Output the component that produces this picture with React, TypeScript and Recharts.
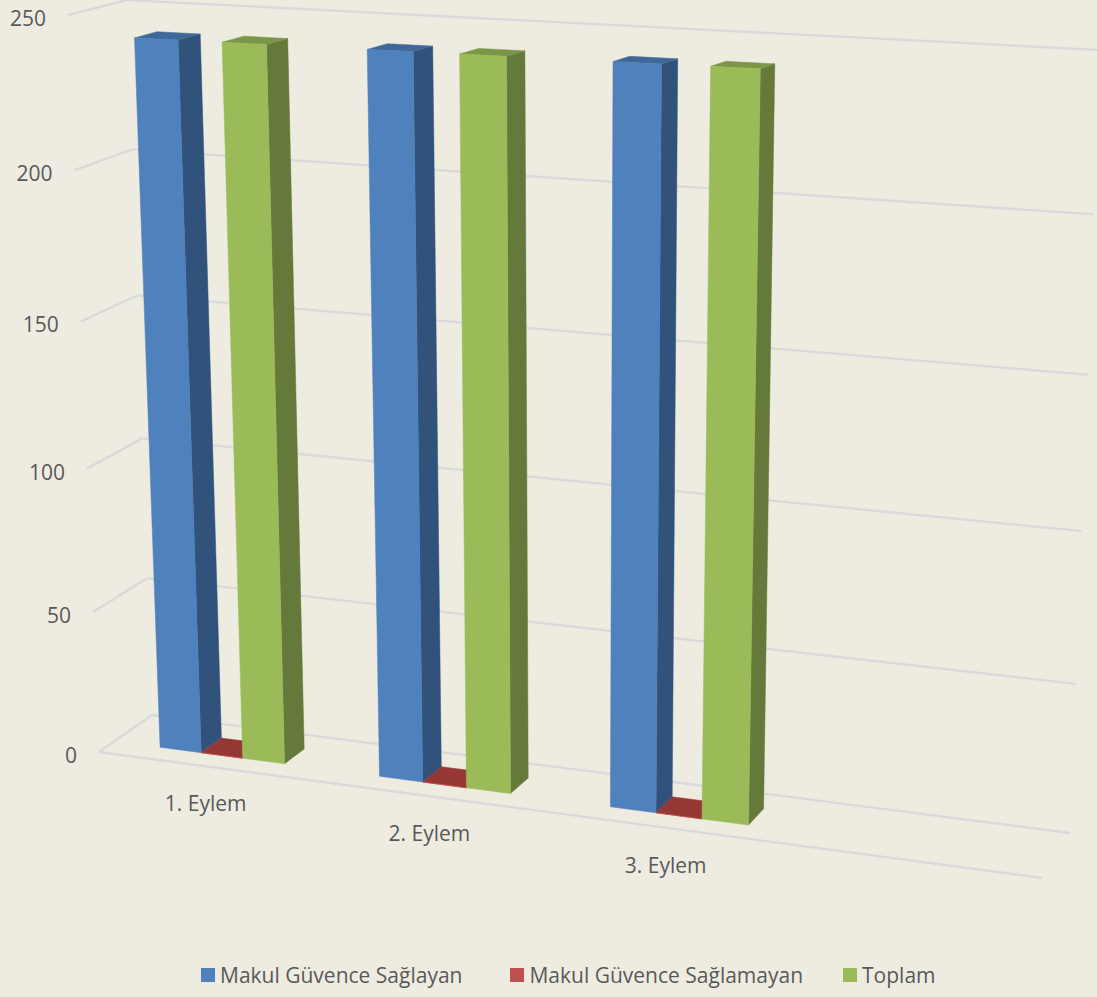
import React from "react";
import { Bar, BarChart, CartesianGrid, Legend, XAxis, YAxis } from "recharts";

const categories = ["1. Eylem", "2. Eylem", "3. Eylem", ""];
const saglayan = [242, 242, 242, null];
const saglamayan = [0, 0, 0, null];
const toplam = [242, 242, 242, null];
const valueTicks = [0, 50, 100, 150, 200, 250];

const data = categories.map((name, i) => ({
  name,
  saglayan: saglayan[i],
  saglamayan: saglamayan[i],
  toplam: toplam[i],
}));

const W = 1097;
const H = 997;
const plot = { left: 60, top: 10, width: 1000, height: 800 };
const MAX = 250;
const DEPTH_FRONT = 0.29;
const DEPTH_BACK = 0.68;
const legendGaps = [48, 40, 0];

type Pt = [number, number];

// unit square -> quad, corners: (0,0) (1,0) (1,1) (0,1)
const homography = (q: Pt[]) => {
  const [[x0, y0], [x1, y1], [x2, y2], [x3, y3]] = q;
  const dx1 = x1 - x2;
  const dx2 = x3 - x2;
  const sx = x0 - x1 + x2 - x3;
  const dy1 = y1 - y2;
  const dy2 = y3 - y2;
  const sy = y0 - y1 + y2 - y3;
  const den = dx1 * dy2 - dx2 * dy1;
  const g = (sx * dy2 - dx2 * sy) / den;
  const h = (dx1 * sy - sx * dy1) / den;
  const a = x1 - x0 + g * x1;
  const b = x3 - x0 + h * x3;
  const d = y1 - y0 + g * y1;
  const e = y3 - y0 + h * y3;
  return (u: number, v: number): Pt => {
    const w = g * u + h * v + 1;
    return [(a * u + b * v + x0) / w, (d * u + e * v + y0) / w];
  };
};

const frontPlane = homography([[99, 752], [1042, 878], [1078, 60], [68, 15]]);
const backPlane = homography([[152, 715], [1070, 833], [1100, 50], [127, 0]]);

const project = (u: number, v: number, depth: number): Pt => {
  const f = frontPlane(u, v);
  const b = backPlane(u, v);
  return [f[0] + (b[0] - f[0]) * depth, f[1] + (b[1] - f[1]) * depth];
};

const toU = (x: number) => (x - plot.left) / plot.width;
const toV = (y: number) => (plot.top + plot.height - y) / plot.height;
const poly = (pts: Pt[]) => pts.map((p) => p.map((n) => n.toFixed(1)).join(",")).join(" ");

const makeBar = (front: string, side: string, top: string) => (props: any) => {
  const { x, y, width, height } = props;
  const u0 = toU(x);
  const u1 = toU(x + width);
  const v1 = toV(y);
  const v0 = toV(y + height);
  const d0 = DEPTH_FRONT;
  const d1 = DEPTH_BACK;
  return (
    <g>
      <polygon
        points={poly([project(u1, v0, d0), project(u1, v0, d1), project(u1, v1, d1), project(u1, v1, d0)])}
        fill={side}
        stroke={side}
        strokeWidth={0.5}
      />
      <polygon
        points={poly([project(u0, v1, d0), project(u0, v1, d1), project(u1, v1, d1), project(u1, v1, d0)])}
        fill={top}
        stroke={top}
        strokeWidth={0.5}
      />
      <polygon
        points={poly([project(u0, v0, d0), project(u1, v0, d0), project(u1, v1, d0), project(u0, v1, d0)])}
        fill={front}
        stroke={front}
        strokeWidth={0.5}
      />
    </g>
  );
};

const GRID = "#D9D9DA";

const gridLine = (a: Pt, b: Pt) => (
  <line x1={a[0]} y1={a[1]} x2={b[0]} y2={b[1]} stroke={GRID} strokeWidth={2.4} />
);

const WallLine = (props: any) => {
  const v = toV(props.y1);
  return (
    <g key={props.key}>
      {gridLine(project(0, v, 0), project(0, v, 1))}
      {gridLine(project(0, v, 1), project(1, v, 1))}
      {v < 0.001 && gridLine(project(0, 0, 0), project(1, 0, 0))}
    </g>
  );
};

const ValueTick = (props: any) => {
  const [x, y] = project(0, toV(props.payload.coordinate), 0);
  return (
    <text x={x - 22} y={y + 11} textAnchor="end" fontSize={21} fill="#595959">
      {props.payload.value}
    </text>
  );
};

const CategoryTick = (props: any) => {
  const [x, y] = project(toU(props.payload.coordinate), 0, 0);
  return (
    <text x={x - 1} y={y + 45} textAnchor="middle" fontSize={21} fill="#595959">
      {props.payload.value}
    </text>
  );
};

const LegendRow = ({ payload }: any) => (
  <div style={{ display: "flex", paddingLeft: 201, color: "#595959", fontSize: 21 }}>
    {payload.map((item: any, i: number) => (
      <div key={item.value} style={{ display: "flex", alignItems: "center", marginRight: legendGaps[i] }}>
        <span style={{ width: 14, height: 14, background: item.color, marginRight: 5 }} />
        {item.value}
      </div>
    ))}
  </div>
);

export default function App() {
  return (
    <div
      style={{
        position: "absolute",
        left: 0,
        top: 0,
        width: W,
        height: H,
        background: "#EEECE1",
        fontFamily: "'Open Sans', sans-serif",
        overflow: "hidden",
      }}
    >
      <BarChart
        width={W}
        height={H}
        data={data}
        barGap={0}
        barCategoryGap="21.5%"
        margin={{
          left: plot.left - 1,
          top: plot.top,
          right: W - plot.left - plot.width - 4,
          bottom: H - plot.top - plot.height - 1,
        }}
      >
        <CartesianGrid horizontal={WallLine} vertical={false} />
        <XAxis dataKey="name" height={1} interval={0} axisLine={false} tickLine={false} tick={CategoryTick} />
        <YAxis
          width={1}
          domain={[0, MAX]}
          ticks={valueTicks}
          interval={0}
          axisLine={false}
          tickLine={false}
          tick={ValueTick}
        />
        <Legend
          verticalAlign="middle"
          align="center"
          content={LegendRow}
          itemSorter={null}
          wrapperStyle={{ left: 0, top: 961, width: W, margin: 0 }}
        />
        <Bar
          dataKey="saglayan"
          name="Makul Güvence Sağlayan"
          fill="#4F81BD"
          isAnimationActive={false}
          shape={makeBar("#4F81BD", "#30527B", "#3F6797")}
        />
        <Bar
          dataKey="saglamayan"
          name="Makul Güvence Sağlamayan"
          fill="#C0504D"
          isAnimationActive={false}
          shape={makeBar("#C0504D", "#7D3432", "#953735")}
        />
        <Bar
          dataKey="toplam"
          name="Toplam"
          fill="#9BBB59"
          isAnimationActive={false}
          shape={makeBar("#9BBB59", "#657A3A", "#7C9647")}
        />
      </BarChart>
    </div>
  );
}
